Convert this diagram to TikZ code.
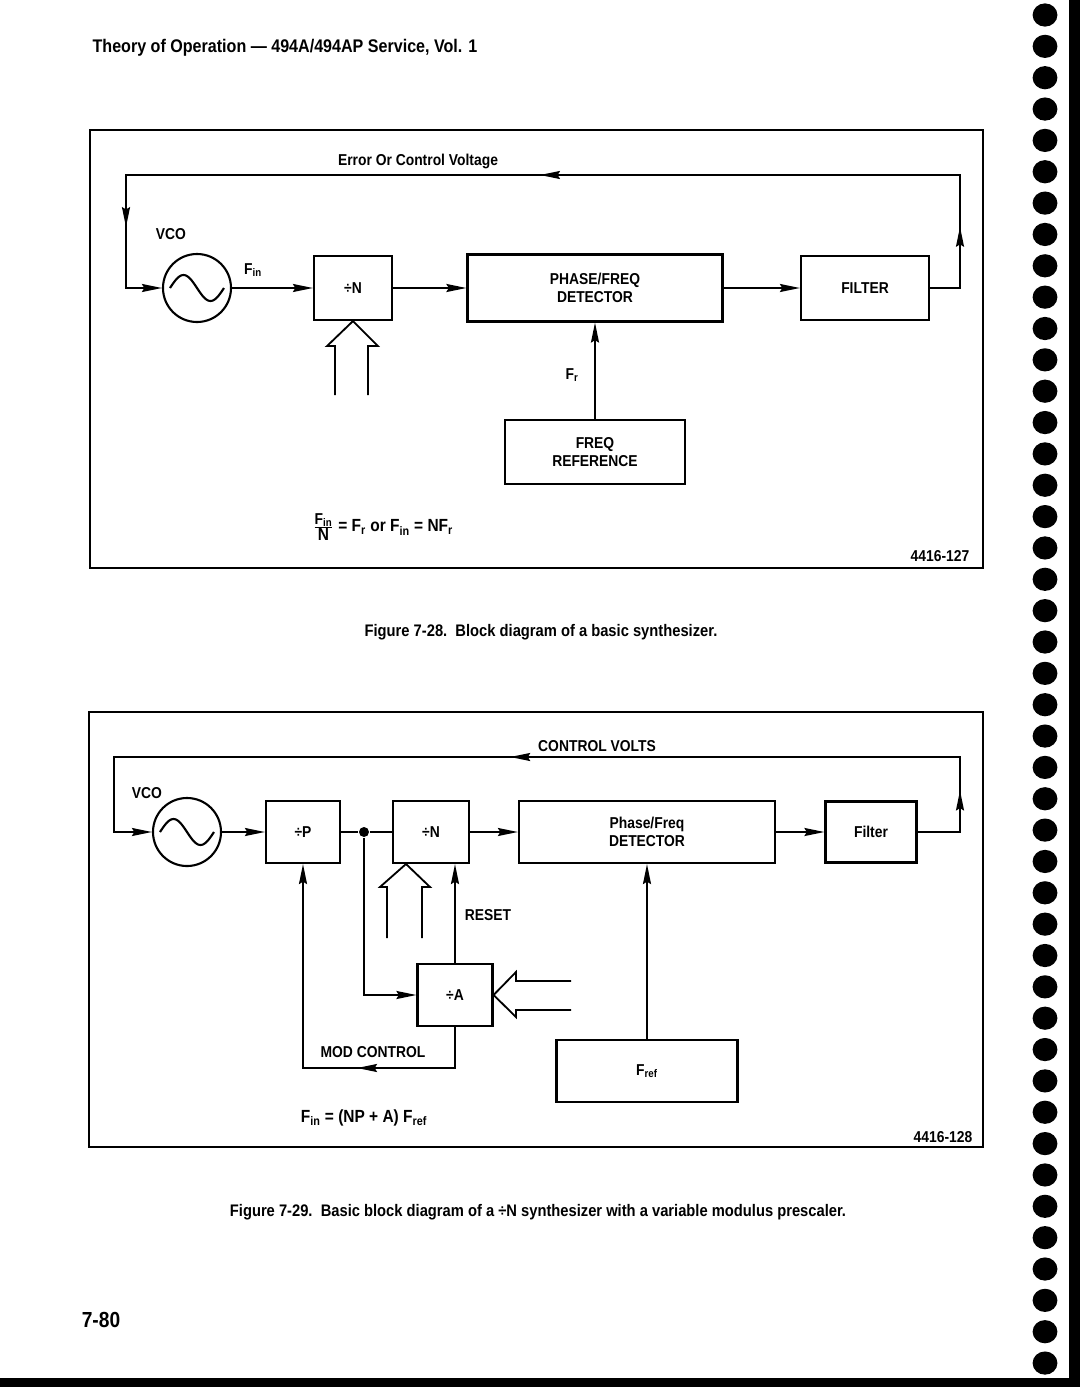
\documentclass[tikz,border=0pt]{standalone}
\usepackage{fontspec}
\setmainfont{Liberation Sans}[FakeStretch=0.88]
\usetikzlibrary{arrows.meta,decorations.markings}
\newcommand\lblfont{\bfseries\fontsize{11.2}{12.8}\selectfont}
\newcommand\eqfont{\bfseries\fontsize{12.5}{14}\selectfont}
\newcommand\capfont{\bfseries\fontsize{11.9}{13}\selectfont}
\begin{document}
\begin{tikzpicture}[x=0.025cm,y=-0.025cm,line width=1.3pt,
  >={Stealth[length=5mm,width=2mm,inset=0.6mm]},
  blk/.style={draw,line width=1.5pt,align=center,font=\lblfont,inner sep=0pt},
  osc/.style={draw,circle,line width=1.5pt,minimum size=1.7cm,inner sep=0pt},
  lbl/.style={font=\lblfont,inner sep=0pt},
  marks/.style={postaction={decorate},decoration={markings,#1}},
  frame/.style={line width=1pt}]
\useasboundingbox (0,0) rectangle (1080,1387);

\node[anchor=west,font=\bfseries\fontsize{13}{15}\selectfont] (head) at (87,48) {Theory of Operation --- 494A/494AP Service, Vol. 1};

% Figure 7-28
\draw[frame] (90,130) rectangle (983,568);
\node[osc] (vco1) at (197,288) {};
\draw[line width=1.5pt,shift={(vco1.center)}] plot[domain=-1:1,samples=41,smooth] ({27*\x},{13*sin(180*\x)});
\node[blk,minimum width=1.95cm,minimum height=1.6cm] (divn1) at (353,288) {÷N};
\node[blk,minimum width=6.375cm,minimum height=1.675cm] (pfd1) at (595,288) {PHASE/FREQ\\DETECTOR};
\node[blk,minimum width=3.2cm,minimum height=1.6cm] (filt1) at (865,288) {FILTER};
\node[blk,minimum width=4.5cm,minimum height=1.6cm] (fref1) at (595,452) {FREQ\\REFERENCE};
\coordinate (fb1r) at (960,175);
\coordinate (fb1l) at (126,175);
\draw[->] (vco1.east) -- (divn1.west);
\draw[->] (divn1) -- (pfd1);
\draw[->] (pfd1) -- (filt1);
\draw[->] (fref1) -- (pfd1);
\draw[->,marks={mark=at position 0.081 with {\arrow{>}},mark=at position 0.5 with {\arrow{>}},mark=at position 0.914 with {\arrow{>}}}] (filt1.east) -| (fb1r) -- (fb1l) |- (vco1.west);
\draw (divn1.south) ++(-18,74) -- ++(0,-49) -- ++(-8,0) -- (divn1.south) -- ++(25,25) -- ++(-10,0) -- ++(0,49);
\node[lbl] (ecv) at (418,161) {Error Or Control Voltage};
\node[lbl] (vcol1) at (171,234) {VCO};
\node[lbl] (fin1) at (253,270) {F\textsubscript{in}};
\node[lbl] (fr1) at (572,375) {F\textsubscript{r}};
\node[font=\eqfont,inner sep=0pt,anchor=west] (eq1) at (312,527) {$\frac{\mbox{\lblfont F\textsubscript{in}}}{\mbox{N}}$ = F\textsubscript{r} or F\textsubscript{in} = NF\textsubscript{r}};
\node[lbl] (id1) at (940,556) {4416-127};
\node[font=\capfont] (cap1) at (541,632) {Figure 7-28.\ \ Block diagram of a basic synthesizer.};

% Figure 7-29
\draw[frame] (89,712) rectangle (983,1147);
\node[osc] (vco2) at (187,832) {};
\draw[line width=1.5pt,shift={(vco2.center)}] plot[domain=-1:1,samples=41,smooth] ({27*\x},{13*sin(180*\x)});
\node[blk,minimum width=1.85cm,minimum height=1.55cm] (divp) at (303,832) {÷P};
\node[circle,fill,inner sep=0pt,minimum size=0.25cm] (tap) at (364,832) {};
\node[blk,minimum width=1.9cm,minimum height=1.55cm] (divn2) at (431,832) {÷N};
\node[blk,minimum width=6.4cm,minimum height=1.55cm] (pfd2) at (647,832) {Phase/Freq\\DETECTOR};
\node[blk,minimum width=2.275cm,minimum height=1.525cm] (filt2) at (871,832) {Filter};
\node[blk,minimum width=1.875cm,minimum height=1.55cm] (diva) at (455,995) {÷A};
\node[blk,minimum width=4.525cm,minimum height=1.55cm] (fref2) at (647,1071) {F\textsubscript{ref}};
\coordinate (fb2r) at (960,757);
\coordinate (fb2l) at (114,757);
\coordinate (mod) at (455,1068);
\draw[->] (vco2.east) -- (divp.west);
\draw (divp.east) -- (tap) -- (divn2.west);
\draw[->] (divn2) -- (pfd2);
\draw[->] (pfd2) -- (filt2);
\draw[->] (fref2) -- (pfd2);
\draw[->,marks={mark=at position 0.078 with {\arrow{>}},mark=at position 0.527 with {\arrow{>}}}] (filt2.east) -| (fb2r) -- (fb2l) |- (vco2.west);
\draw[->] (tap) |- (diva.west);
\draw[->,marks={mark=at position 0.35 with {\arrow{>}}}] (diva.south) -- (mod) -| (divp.south);
\draw[->] (diva.north) -- (diva.north |- divn2.south);
\draw (387,938) -- (387,887) -- (380,887) -- (406,864) -- (430,887) -- (422,887) -- (422,938);
\draw (571,981) -- (516,981) -- (516,972) -- (diva.east) -- (516,1017) -- (516,1010) -- (571,1010);
\node[lbl] (cv) at (597,746) {CONTROL VOLTS};
\node[lbl] (vcol2) at (147,793) {VCO};
\node[lbl] (rst) at (488,915) {RESET};
\node[lbl] (modl) at (373,1052) {MOD CONTROL};
\node[font=\eqfont,inner sep=0pt,anchor=west] (eq2) at (300,1118) {F\textsubscript{in} = (NP + A) F\textsubscript{ref}};
\node[lbl] (id2) at (943,1137) {4416-128};
\node[font=\capfont] (cap2) at (538,1212) {Figure 7-29.\ \ Basic block diagram of a ÷N synthesizer with a variable modulus prescaler.};

\node[font=\bfseries\fontsize{15.5}{18}\selectfont] (pg) at (101,1320) {7-80};
\foreach \k in {0,...,43}
  \fill (1045,{15+31.35*\k}) ellipse [x radius=0.31cm,y radius=0.29cm];
\fill (1069,0) rectangle (1080,1387);
\fill (0,1378) rectangle (1080,1387);
\end{tikzpicture}
\end{document}
